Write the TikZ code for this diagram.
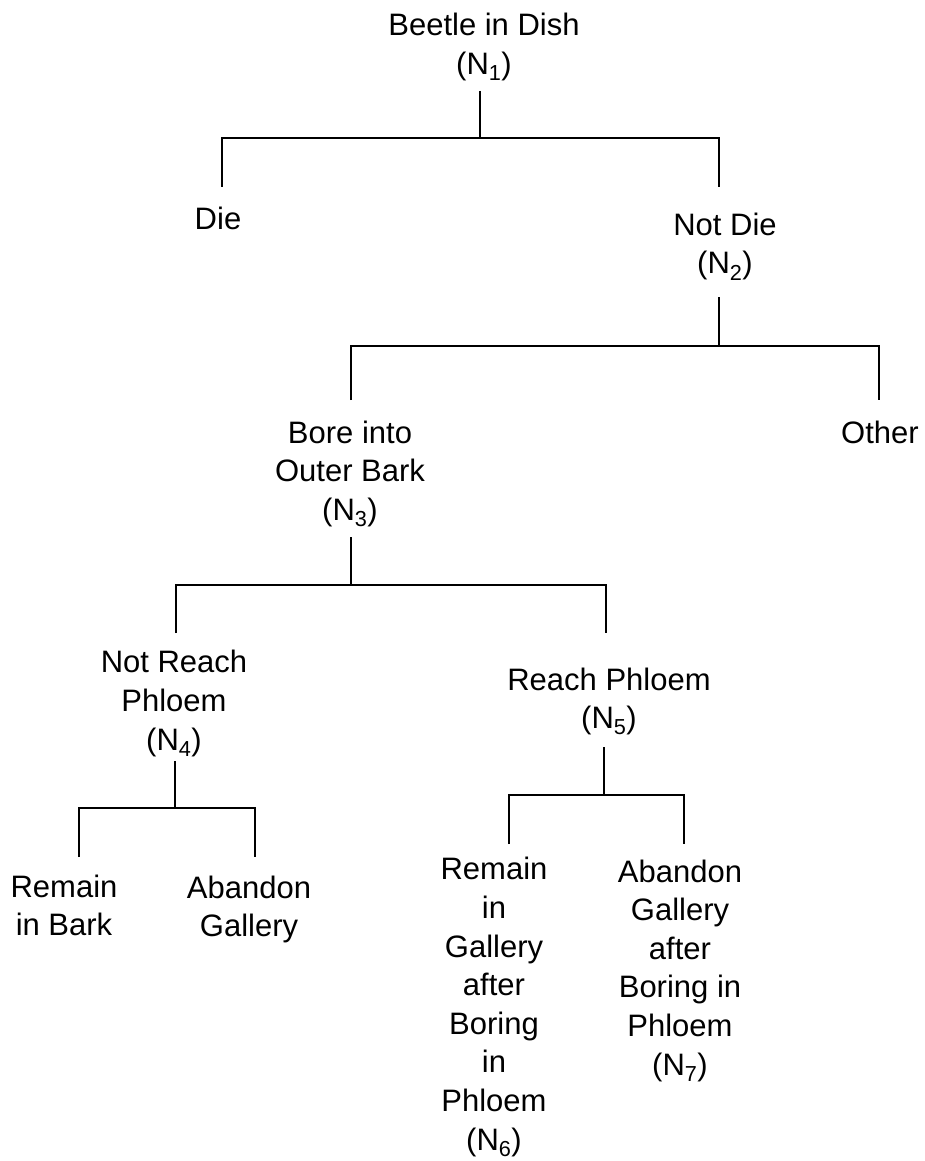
\documentclass[tikz,border=0pt]{standalone}
\usepackage{fontspec}
\setmainfont{Liberation Sans}
\begin{document}
\begin{tikzpicture}[x=1pt,y=-1pt,
  lbl/.style={anchor=base,align=center,inner sep=0pt,
    font=\fontsize{31}{38.6}\selectfont},
  edge/.style={line width=1.9pt,line cap=butt}]
\useasboundingbox (0,0) rectangle (924,1161);
% nodes (positioned at baseline of last line)
\node[lbl] (n1) at (484,74.6) {Beetle in Dish\\(N\textsubscript{1})};
\node[lbl] (die) at (218,229) {Die};
\node[lbl] (n2) at (725,273.6) {Not Die\\(N\textsubscript{2})};
\node[lbl] (oth) at (880,443) {Other};
\node[lbl] (n3) at (350,520.2) {Bore into\\Outer Bark\\(N\textsubscript{3})};
\node[lbl] (n4) at (174,750) {Not Reach\\Phloem\\(N\textsubscript{4})};
\node[lbl] (n5) at (609,728.6) {Reach Phloem\\(N\textsubscript{5})};
\node[lbl] (rb) at (64,935.6) {Remain\\in Bark};
\node[lbl] (ag) at (249,936.6) {Abandon\\Gallery};
\node[lbl] (n6) at (494,1150) {Remain\\in\\Gallery\\after\\Boring\\in\\Phloem\\(N\textsubscript{6})};
\node[lbl] (n7) at (680,1075) {Abandon\\Gallery\\after\\Boring in\\Phloem\\(N\textsubscript{7})};
% connector points
\coordinate (s1) at (480,91);  \coordinate (j1) at (480,138);
\coordinate (e1a) at (222,187); \coordinate (e1b) at (719,187);
\coordinate (s2) at (719,297); \coordinate (j2) at (719,346);
\coordinate (e2a) at (351,400); \coordinate (e2b) at (879,400);
\coordinate (s3) at (351,537); \coordinate (j3) at (351,585);
\coordinate (e3a) at (176,633); \coordinate (e3b) at (606,633);
\coordinate (s4) at (175,761); \coordinate (j4) at (175,808);
\coordinate (e4a) at (79,857); \coordinate (e4b) at (255,857);
\coordinate (s5) at (604,747); \coordinate (j5) at (604,795);
\coordinate (e5a) at (509,844); \coordinate (e5b) at (684,844);
% connectors
\draw[edge] (s1) -- (j1);
\draw[edge] (e1a) |- (j1) -| (e1b);
\draw[edge] (s2) -- (j2);
\draw[edge] (e2a) |- (j2) -| (e2b);
\draw[edge] (s3) -- (j3);
\draw[edge] (e3a) |- (j3) -| (e3b);
\draw[edge] (s4) -- (j4);
\draw[edge] (e4a) |- (j4) -| (e4b);
\draw[edge] (s5) -- (j5);
\draw[edge] (e5a) |- (j5) -| (e5b);
\end{tikzpicture}
\end{document}
